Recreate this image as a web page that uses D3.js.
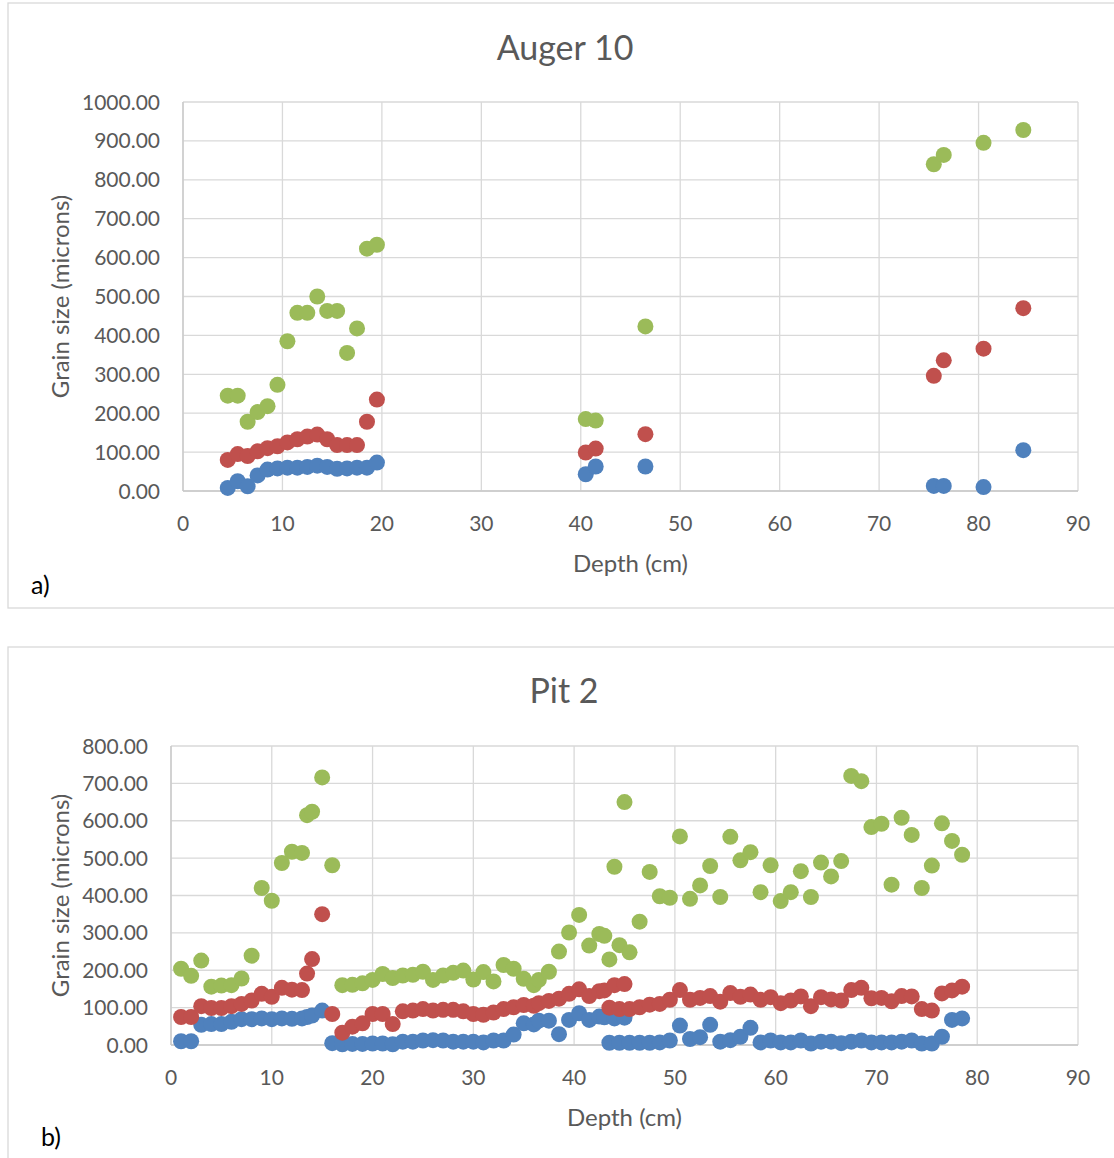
<html lang="en">
<head>
    <meta charset="utf-8">
    <title>Grain size</title>
    <script src="https://cdn.jsdelivr.net/npm/d3@7"></script>
    <style>
        body { margin: 0; background: #fff; }
        text { font-family: Lato, "Open Sans", sans-serif; fill: #595959; }
        .grid line { stroke: #d9d9d9; stroke-width: 1.3px; }
    </style>
</head>
<body>
<svg width="1114" height="1158"></svg>
<script>
// ---- Auger 10 ----
var augerDepth = [4.5, 5.5, 6.5, 7.5, 8.5, 9.5, 10.5, 11.5, 12.5, 13.5, 14.5, 15.5, 16.5, 17.5, 18.5, 19.5,
                  40.5, 41.5, 46.5, 75.5, 76.5, 80.5, 84.5];
var augerBlue  = [8, 25, 12, 40, 55, 58, 60, 60, 62, 65, 62, 57, 58, 60, 60, 73,
                  43, 63, 63, 13, 13, 10, 105];
var augerRed   = [80, 95, 90, 102, 110, 115, 125, 133, 140, 145, 133, 118, 118, 118, 178, 235,
                  99, 109, 146, 296, 336, 366, 470];
var augerGreen = [245, 245, 178, 203, 218, 273, 385, 458, 458, 500, 463, 463, 355, 418, 623, 633,
                  185, 181, 423, 840, 864, 895, 928];

// ---- Pit 2 ----
var pitDepth = [1, 2, 3, 4, 5, 6, 7, 8, 9, 10, 11, 12, 13, 13.5, 14, 15, 16, 17, 18, 19, 20,
                21, 22, 23, 24, 25, 26, 27, 28, 29, 30, 31, 32, 33, 34, 35, 36, 36.5, 37.5, 38.5,
                39.5, 40.5, 41.5, 42.5, 43, 43.5, 44, 44.5, 45, 45.5, 46.5, 47.5, 48.5, 49.5, 50.5,
                51.5, 52.5, 53.5, 54.5, 55.5, 56.5, 57.5, 58.5, 59.5, 60.5, 61.5, 62.5, 63.5, 64.5,
                65.5, 66.5, 67.5, 68.5, 69.5, 70.5, 71.5, 72.5, 73.5, 74.5, 75.5, 76.5, 77.5, 78.5];
var pitBlue  = [10, 10, 54, 56, 56, 62, 69, 69, 71, 69, 71, 70, 71, 75, 79, 92, 5, 2, 3, 3, 4,
                4, 2, 9, 9, 12, 13, 12, 9, 9, 9, 7, 12, 12, 28, 58, 55, 65, 65, 29,
                67, 85, 67, 76, 74, 6, 71, 6, 73, 6, 6, 6, 7, 12, 52,
                16, 21, 54, 9, 13, 22, 46, 7, 12, 7, 7, 12, 4, 9,
                9, 5, 9, 12, 7, 7, 7, 9, 12, 4, 4, 22, 67, 71];
var pitRed   = [75, 75, 104, 99, 99, 104, 110, 119, 137, 129, 153, 148, 147, 191, 230, 350, 83, 33, 49, 58, 83,
                83, 56, 90, 92, 96, 92, 94, 94, 90, 83, 81, 87, 96, 101, 107, 105, 112, 118, 124,
                137, 149, 131, 144, 146, 100, 160, 96, 163, 96, 101, 108, 110, 121, 147,
                121, 126, 131, 116, 139, 129, 135, 121, 128, 112, 119, 130, 104, 128,
                122, 119, 147, 153, 125, 126, 117, 131, 130, 96, 92, 138, 146, 156];
var pitGreen = [204, 185, 226, 156, 159, 160, 178, 239, 420, 386, 487, 517, 514, 615, 624, 716, 481, 160, 161, 165, 174,
                190, 179, 186, 188, 196, 174, 186, 193, 199, 175, 195, 170, 214, 204, 177, 160, 174, 196, 250,
                301, 348, 266, 297, 292, 229, 477, 267, 650, 248, 330, 463, 398, 394, 558,
                391, 427, 479, 396, 557, 494, 516, 409, 481, 385, 409, 465, 396, 488,
                451, 492, 720, 706, 583, 592, 429, 608, 562, 420, 480, 593, 546, 509];

var xTicks = [0, 10, 20, 30, 40, 50, 60, 70, 80, 90];
var yTicksAuger = [0, 100, 200, 300, 400, 500, 600, 700, 800, 900, 1000];
var yTicksPit = [0, 100, 200, 300, 400, 500, 600, 700, 800];

var colors = ["#4f81bd", "#c0504d", "#9bbb59"];
var svg = d3.select("svg");

function drawChart(o) {
    var g = svg.append("g");

    g.append("rect")
        .attr("x", o.box[0]).attr("y", o.box[1])
        .attr("width", o.box[2]).attr("height", o.box[3])
        .attr("fill", "#fff").attr("stroke", "#d9d9d9").attr("stroke-width", 1.3);

    var x = d3.scaleLinear().domain([0, 90]).range([o.left, o.right]);
    var y = d3.scaleLinear().domain([0, d3.max(o.yTicks)]).range([o.bottom, o.top]);

    // gridlines
    var grid = g.append("g").attr("class", "grid");
    grid.selectAll(".h").data(o.yTicks).enter().append("line")
        .attr("x1", o.left).attr("x2", o.right)
        .attr("y1", function(d) { return y(d); }).attr("y2", function(d) { return y(d); });
    grid.selectAll(".v").data(xTicks).enter().append("line")
        .attr("y1", o.top).attr("y2", o.bottom)
        .attr("x1", function(d) { return x(d); }).attr("x2", function(d) { return x(d); });

    // axis lines
    g.append("line").attr("x1", o.left).attr("x2", o.right).attr("y1", o.bottom).attr("y2", o.bottom)
        .attr("stroke", "#c8c8c8").attr("stroke-width", 1.3);
    g.append("line").attr("x1", o.left).attr("x2", o.left).attr("y1", o.top).attr("y2", o.bottom)
        .attr("stroke", "#c8c8c8").attr("stroke-width", 1.3);

    // tick labels
    g.selectAll(".yt").data(o.yTicks).enter().append("text")
        .attr("x", o.left - 23).attr("y", function(d) { return y(d); })
        .attr("dy", "0.36em").attr("text-anchor", "end")
        .style("font-size", "21px")
        .text(function(d) { return d.toFixed(2); });
    g.selectAll(".xt").data(xTicks).enter().append("text")
        .attr("x", function(d) { return x(d); }).attr("y", o.bottom + 40)
        .attr("text-anchor", "middle")
        .style("font-size", "21px")
        .text(function(d) { return d; });

    // titles
    g.append("text").attr("x", o.titleX).attr("y", o.titleY)
        .attr("text-anchor", "middle").style("font-size", "34px").text(o.title);
    g.append("text").attr("x", (o.left + o.right) / 2).attr("y", o.bottom + 81)
        .attr("text-anchor", "middle").style("font-size", "24px").text("Depth (cm)");
    g.append("text")
        .attr("transform", "translate(60," + ((o.top + o.bottom) / 2) + ") rotate(-90)")
        .attr("dy", "0.36em").attr("text-anchor", "middle")
        .style("font-size", "24px").text("Grain size (microns)");
    g.append("text").attr("x", o.tagX).attr("y", o.tagY)
        .style("font-size", "25px").style("fill", "#000").text(o.tag);

    // points: blue, red, green
    o.series.forEach(function(vals, i) {
        g.append("g").selectAll("circle")
            .data(vals.map(function(v, k) { return {d: o.depth[k], v: v}; }))
            .enter().append("circle")
            .attr("cx", function(p) { return x(p.d); })
            .attr("cy", function(p) { return y(p.v); })
            .attr("r", 8)
            .attr("fill", colors[i]);
    });
}

drawChart({
    box: [8, 3, 1114, 605],
    left: 183, right: 1078, top: 102, bottom: 491,
    yTicks: yTicksAuger,
    title: "Auger 10", titleX: 565, titleY: 60,
    tag: "a)", tagX: 31, tagY: 594,
    depth: augerDepth,
    series: [augerBlue, augerRed, augerGreen]
});

drawChart({
    box: [8, 647, 1114, 520],
    left: 171, right: 1078, top: 746, bottom: 1045,
    yTicks: yTicksPit,
    title: "Pit 2", titleX: 564, titleY: 703,
    tag: "b)", tagX: 41, tagY: 1146,
    depth: pitDepth,
    series: [pitBlue, pitRed, pitGreen]
});
</script>
</body>
</html>
